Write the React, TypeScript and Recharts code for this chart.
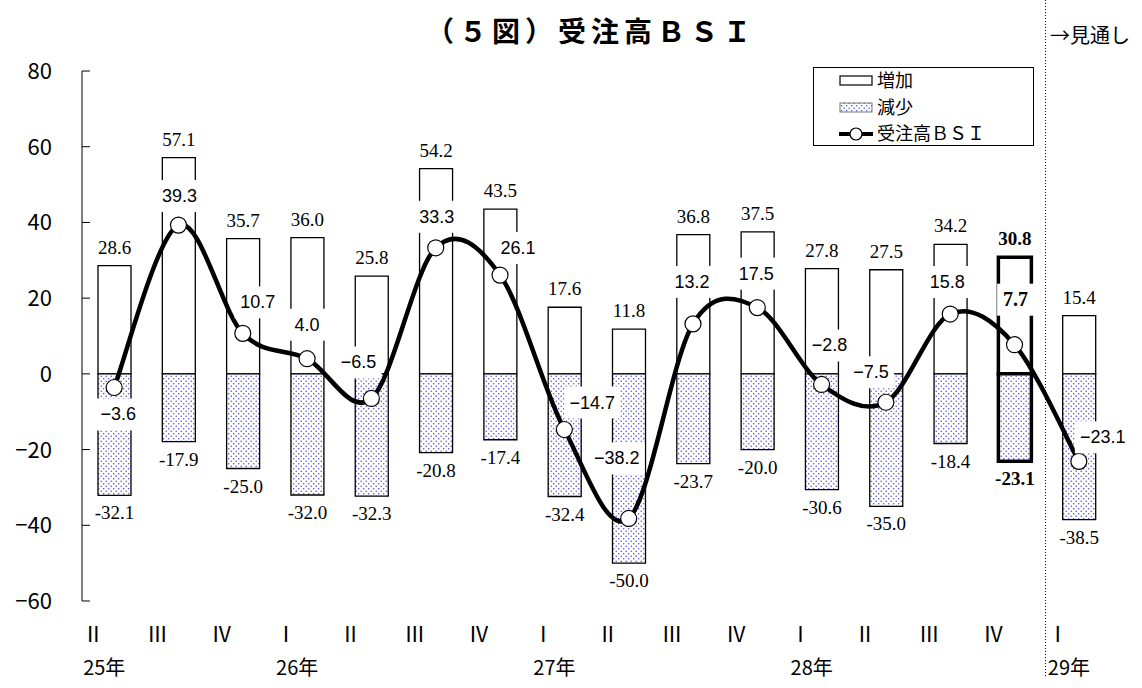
import React from "react";
import {
  ComposedChart,
  Bar,
  Line,
  XAxis,
  YAxis,
  Cell,
  LabelList,
  Legend,
} from "recharts";

// 四半期・年ラベル
const quarters = ["Ⅱ", "Ⅲ", "Ⅳ", "Ⅰ", "Ⅱ", "Ⅲ", "Ⅳ", "Ⅰ", "Ⅱ", "Ⅲ", "Ⅳ", "Ⅰ", "Ⅱ", "Ⅲ", "Ⅳ", "Ⅰ"];
const years = ["25年", "", "", "26年", "", "", "", "27年", "", "", "", "28年", "", "", "", "29年"];

// 増加・減少・受注高BSI
const increase = [28.6, 57.1, 35.7, 36.0, 25.8, 54.2, 43.5, 17.6, 11.8, 36.8, 37.5, 27.8, 27.5, 34.2, 30.8, 15.4];
const decrease = [-32.1, -17.9, -25.0, -32.0, -32.3, -20.8, -17.4, -32.4, -50.0, -23.7, -20.0, -30.6, -35.0, -18.4, -23.1, -38.5];
const bsi = [-3.6, 39.3, 10.7, 4.0, -6.5, 33.3, 26.1, -14.7, -38.2, 13.2, 17.5, -2.8, -7.5, 15.8, 7.7, -23.1];

const yTicks = [-60, -40, -20, 0, 20, 40, 60, 80];
const latest = 14; // 太枠の期

// BSIラベルの位置（点からのずれ）
const labelShift: [number, number][] = [
  [4, 27], [1, -29], [15, -31], [0, -34], [-13, -36], [1, -31], [18, -27], [28, -27],
  [-12, -60], [-1, -42], [-1, -34], [8, -39], [-15, -30], [-3, -32], [1, -45], [24, -24],
];

const data = quarters.map((q, i) => ({
  q,
  inc: increase[i],
  dec: decrease[i],
  bsi: bsi[i],
}));

const SANS = "'Liberation Sans', Arial, sans-serif";
const SERIF = "'Liberation Serif', 'Times New Roman', serif";
const GOTHIC = "'Noto Sans CJK JP', sans-serif";

const minus = (v: number) => (v < 0 ? "−" + Math.abs(v).toFixed(1) : v.toFixed(1));

// Curve like Excel's smoothed line (Catmull-Rom)
const smooth = (ctx: any) => {
  let pts: number[][] = [];
  return {
    areaStart() {},
    areaEnd() {},
    lineStart() {
      pts = [];
    },
    lineEnd() {
      if (!pts.length) return;
      ctx.moveTo(pts[0][0], pts[0][1]);
      for (let i = 0; i < pts.length - 1; i++) {
        const p0 = pts[Math.max(i - 1, 0)];
        const p1 = pts[i];
        const p2 = pts[i + 1];
        const p3 = pts[Math.min(i + 2, pts.length - 1)];
        ctx.bezierCurveTo(
          p1[0] + (p2[0] - p0[0]) / 6,
          p1[1] + (p2[1] - p0[1]) / 6,
          p2[0] - (p3[0] - p1[0]) / 6,
          p2[1] - (p3[1] - p1[1]) / 6,
          p2[0],
          p2[1]
        );
      }
    },
    point(x: number, y: number) {
      pts.push([+x, +y]);
    },
  };
};

const QuarterTick = (props: any) => {
  const { x, y, payload } = props;
  const i = payload.index;
  return (
    <g>
      <text x={x - 21} y={y + 41} textAnchor="middle" fontSize={21} fontFamily={GOTHIC} fill="#000">
        {payload.value}
      </text>
      {years[i] ? (
        <text x={x - 31} y={y + 74} textAnchor="start" fontSize={20} fontFamily={GOTHIC} fill="#000">
          {years[i]}
        </text>
      ) : null}
    </g>
  );
};

const ValueTick = (props: any) => {
  const { x, y, payload } = props;
  const v = payload.value;
  return (
    <g>
      <line x1={x} x2={x + 8} y1={y} y2={y} stroke="#000" strokeWidth={1} />
      <text x={x - 30} y={y + 8} textAnchor="end" fontSize={22} fontFamily={GOTHIC} fill="#000">
        {v < 0 ? "−" + Math.abs(v) : v}
      </text>
    </g>
  );
};

const IncLabel = (props: any) => {
  const { x, y, width, height, value, index } = props;
  const top = Math.min(y, y + height);
  return (
    <text
      x={x + width / 2}
      y={top - 12}
      textAnchor="middle"
      fontSize={19}
      fontFamily={SERIF}
      fontWeight={index === latest ? "bold" : "normal"}
      fill="#000"
    >
      {Number(value).toFixed(1)}
    </text>
  );
};

const DecLabel = (props: any) => {
  const { x, y, width, height, value, index } = props;
  const bottom = Math.max(y, y + height);
  return (
    <text
      x={x + width / 2}
      y={bottom + 24}
      textAnchor="middle"
      fontSize={19}
      fontFamily={SERIF}
      fontWeight={index === latest ? "bold" : "normal"}
      fill="#000"
    >
      {Number(value).toFixed(1)}
    </text>
  );
};

const BsiLabel = (props: any) => {
  const { x, y, value, index } = props;
  const [dx, dy] = labelShift[index] || [0, -30];
  const cx = x + dx;
  const cy = y + dy;
  const txt = minus(Number(value));
  const w = txt.length * 9.6 + 8;
  const bold = index === latest;
  return (
    <g>
      <rect x={cx - w / 2} y={cy - 16} width={w} height={32} fill="#fff" />
      <text
        x={cx}
        y={cy + 6}
        textAnchor="middle"
        fontSize={bold ? 20 : 18}
        fontFamily={bold ? SERIF : SANS}
        fontWeight={bold ? "bold" : "normal"}
        fill="#000"
      >
        {bold ? Number(value).toFixed(1) : txt}
      </text>
    </g>
  );
};

const LegendBox = () => (
  <svg width={221} height={80} style={{ display: "block", overflow: "visible" }}>
    <rect x={0.5} y={0.5} width={220} height={78} fill="#fff" stroke="#000" strokeWidth={1} />
    <rect x={27} y={9} width={32} height={9} fill="#fff" stroke="#000" strokeWidth={1.2} />
    <text x={64} y={20} fontSize={18} fontFamily={GOTHIC} fill="#000">増加</text>
    <rect x={27} y={36} width={32} height={9} fill="url(#dots)" stroke="#777" strokeWidth={1} />
    <text x={64} y={47} fontSize={18} fontFamily={GOTHIC} fill="#000">減少</text>
    <line x1={26} x2={60} y1={67} y2={67} stroke="#000" strokeWidth={4} />
    <circle cx={43} cy={67} r={6} fill="#fff" stroke="#000" strokeWidth={1.2} />
    <text x={64} y={73} fontSize={18} fontFamily={GOTHIC} fill="#000">受注高ＢＳＩ</text>
  </svg>
);

export default function App() {
  return (
    <div style={{ position: "absolute", left: 0, top: 0, width: 1142, height: 688, background: "#fff" }}>
      <ComposedChart
        width={1142}
        height={688}
        data={data}
        stackOffset="sign"
        margin={{ top: 71, right: 31, bottom: 7, left: 22 }}
      >
        <defs>
          <pattern id="dots" patternUnits="userSpaceOnUse" width={5} height={5}>
            <rect width={5} height={5} fill="#fff" />
            <circle cx={1.2} cy={1.2} r={0.75} fill="#4a4ad0" />
            <circle cx={3.7} cy={3.7} r={0.75} fill="#4a4ad0" />
          </pattern>
        </defs>
        <XAxis
          dataKey="q"
          axisLine={false}
          tickLine={false}
          tickSize={0}
          tickMargin={0}
          height={80}
          interval={0}
          tick={<QuarterTick />}
        />
        <YAxis
          domain={[-60, 80]}
          ticks={yTicks}
          width={60}
          tickSize={0}
          tickMargin={0}
          tickLine={false}
          axisLine={{ stroke: "#000", strokeWidth: 1 }}
          tick={<ValueTick />}
          interval={0}
        />
        <Legend
          layout="vertical"
          align="center"
          verticalAlign="middle"
          content={<LegendBox />}
          wrapperStyle={{ left: 813, top: 67, width: 221, height: 80 }}
        />
        <Bar dataKey="inc" name="増加" stackId="s" barSize={33} fill="#fff" stroke="#000" strokeWidth={1.3} isAnimationActive={false}>
          {data.map((_, i) => (
            <Cell key={i} strokeWidth={i === latest ? 3.5 : 1.3} />
          ))}
          <LabelList dataKey="inc" content={<IncLabel />} />
        </Bar>
        <Bar dataKey="dec" name="減少" stackId="s" barSize={33} fill="url(#dots)" stroke="#000" strokeWidth={1.3} isAnimationActive={false}>
          {data.map((_, i) => (
            <Cell key={i} strokeWidth={i === latest ? 3.5 : 1.3} />
          ))}
          <LabelList dataKey="dec" content={<DecLabel />} />
        </Bar>
        <Line
          dataKey="bsi"
          name="受注高ＢＳＩ"
          type={smooth as any}
          stroke="#000"
          strokeWidth={4.5}
          dot={{ r: 8, fill: "#fff", stroke: "#000", strokeWidth: 1.2 }}
          activeDot={false}
          isAnimationActive={false}
        >
          <LabelList dataKey="bsi" content={<BsiLabel />} />
        </Line>
      </ComposedChart>
      <svg width={1142} height={688} style={{ position: "absolute", left: 0, top: 0, pointerEvents: "none" }}>
        <text x={591} y={42} textAnchor="middle" fontSize={28} fontWeight="bold" fontFamily={GOTHIC} letterSpacing={5} fill="#000">
          （５図）受注高ＢＳＩ
        </text>
        <line x1={1045.5} x2={1045.5} y1={0} y2={676} stroke="#000" strokeWidth={1} strokeDasharray="1 2" />
        <text x={1050} y={43} fontSize={20} fontFamily={GOTHIC} fill="#000">→見通し</text>
      </svg>
    </div>
  );
}
